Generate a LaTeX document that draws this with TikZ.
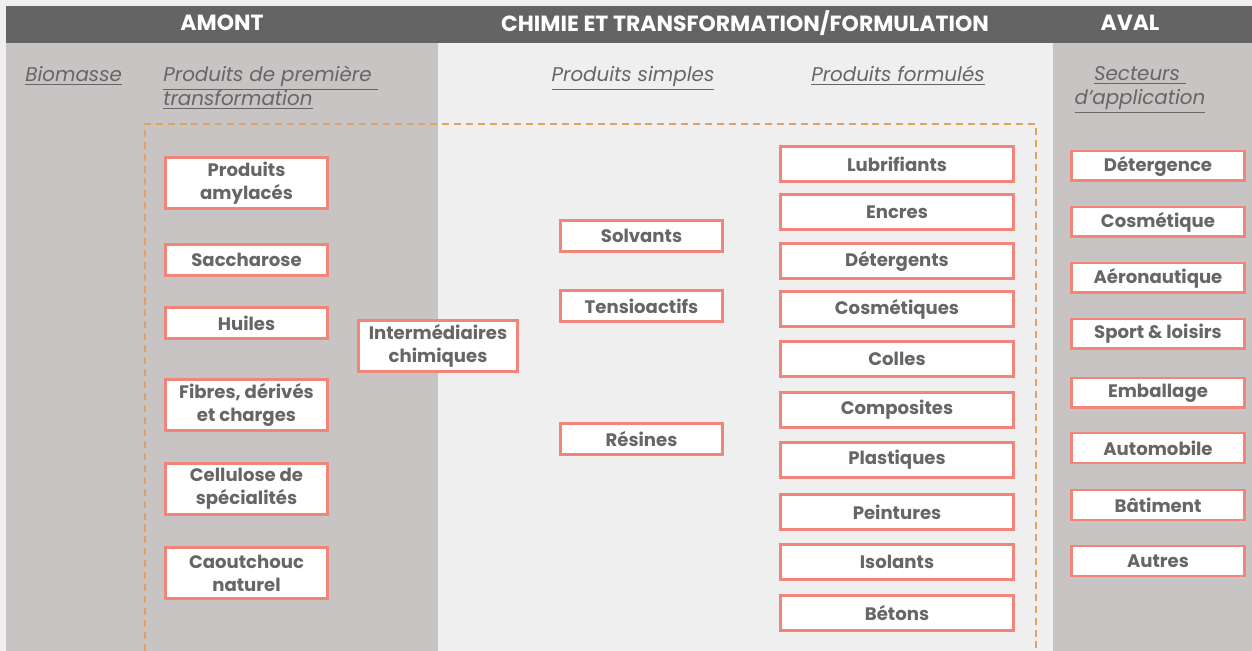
\documentclass[tikz,border=0pt]{standalone}
\usepackage{fontspec}
\setmainfont{Poppins}
\usetikzlibrary{positioning}

\definecolor{barre}{HTML}{646464}
\definecolor{colonne}{HTML}{C8C4C3}
\definecolor{fond}{HTML}{EFEFEF}
\definecolor{saumon}{HTML}{F28579}
\definecolor{pointille}{HTML}{E0A265}
\definecolor{texte}{HTML}{666666}

\tikzset{
  produit/.style={draw=saumon, fill=white, line width=1.7pt, inner sep=0pt, align=center,
    text=texte, font=\bfseries\fontsize{10.3}{13}\selectfont},
  amont/.style={produit, minimum width=3.24cm, minimum height=1.02cm},
  simple/.style={produit, minimum width=3.24cm, minimum height=0.62cm},
  formule/.style={produit, minimum width=4.66cm, minimum height=0.70cm},
  secteur/.style={produit, minimum width=3.46cm, minimum height=0.60cm},
  titre/.style={text=white, font=\bfseries\fontsize{12.5}{14}\selectfont},
  etape/.style={text=texte, font=\itshape\fontsize{11.3}{13.6}\selectfont}
}

\begin{document}
\begin{tikzpicture}[x=0.02cm, y=-0.02cm]
  % fond et colonnes
  \fill[fond] (0,0) rectangle (1252,651);
  \useasboundingbox (0,0) rectangle (1252,651);
  \fill[colonne] (6,43) rectangle (438,651);
  \fill[colonne] (1053,43) rectangle (1252,651);
  \fill[barre] (6,6) rectangle (1252,43);

  % titres
  \node[titre] (amont) at (222,23) {AMONT};
  \node[titre] (chimie) at (745,23) {CHIMIE ET TRANSFORMATION/FORMULATION};
  \node[titre] (aval) at (1130,23) {AVAL};

  \node[etape, anchor=base west, inner sep=0pt] (biomasse) at (25,82) {\underline{Biomasse}};
  \node[etape, anchor=north west, align=left, inner sep=0pt] (premiere) at (163,66)
    {\underline{Produits de première }\\\underline{transformation}};
  \node[etape, anchor=base, inner sep=0pt] (simples) at (633,82) {\underline{Produits simples}};
  \node[etape, anchor=base, inner sep=0pt] (formules) at (898,82) {\underline{Produits formulés}};
  \node[etape, anchor=north, align=center, inner sep=0pt] (secteurs) at (1140,66)
    {\underline{Secteurs }\\\underline{d’application}};

  % cadre de la chimie du végétal
  \draw[pointille, line width=1.2pt, dash pattern=on 4pt off 2.8pt]
    (145,651) -- (145,124) -- (1036,124) -- (1036,651);

  \node[amont] (amylaces) at (246.5,183) {Produits\\amylacés};
  \node[simple] (saccharose) at (246.5,260) {Saccharose};
  \node[simple] (huiles) at (246.5,323) {Huiles};
  \node[amont] (fibres) at (246.5,405) {Fibres, dérivés\\et charges};
  \node[amont] (cellulose) at (246.5,489) {Cellulose de\\spécialités};
  \node[amont] (caoutchouc) at (246.5,573) {Caoutchouc\\naturel};

  \node[amont, minimum width=3.18cm] (intermediaires) at (438,346) {Intermédiaires\\chimiques};

  \node[simple] (solvants) at (641.5,236) {Solvants};
  \node[simple] (tensioactifs) at (641.5,306) {Tensioactifs};
  \node[simple] (resines) at (641.5,439) {Résines};

  \node[formule] (lubrifiants) at (897,164) {Lubrifiants};
  \node[formule] (encres) at (897,212) {Encres};
  \node[formule] (detergents) at (897,261) {Détergents};
  \node[formule] (cosmetiques) at (897,309) {Cosmétiques};
  \node[formule] (colles) at (897,359) {Colles};
  \node[formule] (composites) at (897,410) {Composites};
  \node[formule] (plastiques) at (897,460) {Plastiques};
  \node[formule] (peintures) at (897,512) {Peintures};
  \node[formule] (isolants) at (897,562) {Isolants};
  \node[formule] (betons) at (897,613) {Bétons};

  \node[secteur] (detergence) at (1158,166) {Détergence};
  \node[secteur] (cosmetique) at (1158,222) {Cosmétique};
  \node[secteur] (aeronautique) at (1158,278) {Aéronautique};
  \node[secteur] (sport) at (1158,334) {Sport \& loisirs};
  \node[secteur] (emballage) at (1158,393) {Emballage};
  \node[secteur] (automobile) at (1158,448) {Automobile};
  \node[secteur] (batiment) at (1158,505) {Bâtiment};
  \node[secteur] (autres) at (1158,561) {Autres};
\end{tikzpicture}
\end{document}
